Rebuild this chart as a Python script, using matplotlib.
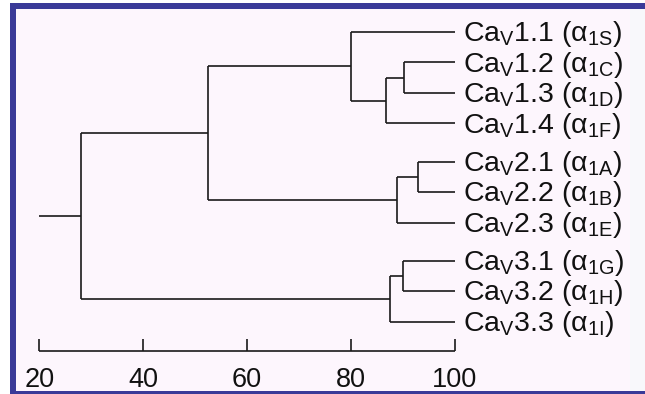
import matplotlib
matplotlib.use("Agg")
import matplotlib.pyplot as plt
from matplotlib.patches import Rectangle

plt.rcParams['font.family'] = ['Liberation Sans', 'DejaVu Sans']
plt.rcParams['mathtext.fontset'] = 'custom'
plt.rcParams['mathtext.rm'] = 'Liberation Sans'
plt.rcParams['mathtext.it'] = 'Liberation Sans:italic'

# leaves, top to bottom
channel = ['1.1', '1.2', '1.3', '1.4', '2.1', '2.2', '2.3', '3.1', '3.2', '3.3']
alpha_sub = ['1S', '1C', '1D', '1F', '1A', '1B', '1E', '1G', '1H', '1I']
leaf_y = [0, 1, 2, 3, 4.25, 5.25, 6.25, 7.5, 8.5, 9.5]

# merges: (left node, right node, % identity); new nodes numbered from 10
merges = [
    (1, 2, 90.1),
    (10, 3, 86.7),
    (0, 11, 80.0),
    (4, 5, 92.8),
    (13, 6, 88.9),
    (12, 14, 52.4),
    (7, 8, 90.0),
    (16, 9, 87.4),
    (15, 17, 28.0),
]
root_start = 20
scale_ticks = [20, 40, 60, 80, 100]

fig = plt.figure(figsize=(6.45, 3.94), dpi=100)
fig.patch.set_facecolor('white')
W, H = 645, 394

def px_rect(x0, y0, x1, y1, color, z):
    fig.patches.append(Rectangle((x0 / W, 1 - y1 / H), (x1 - x0) / W, (y1 - y0) / H,
                                 transform=fig.transFigure, facecolor=color,
                                 edgecolor='none', zorder=z))

# blue frame with pale interior
px_rect(9.7, 3, W + 5, H + 5, '#3a3a98', -3)
px_rect(15.7, 9, 630, 391, '#fdf6fd', -2)
px_rect(630, 9, W + 5, 391, '#f8f8fb', -2)

ax = fig.add_axes([0, 0, 1, 1])
ax.set_facecolor('none')
sx = (455 - 39.3) / 80
ax.set_xlim(20 - 39.3 / sx, 20 + (W - 39.3) / sx)
sy = 30.5
ax.set_ylim((H - 32) / sy, -32 / sy)
ax.axis('off')

lc = '#1a1a1a'
lw = 1.2
xs = [100] * len(channel)
ys = list(leaf_y)
for a, b, h in merges:
    ax.plot([h, h], [ys[a], ys[b]], color=lc, lw=lw, solid_capstyle='butt')
    ax.plot([h, xs[a]], [ys[a], ys[a]], color=lc, lw=lw, solid_capstyle='butt')
    ax.plot([h, xs[b]], [ys[b], ys[b]], color=lc, lw=lw, solid_capstyle='butt')
    xs.append(h)
    ys.append((ys[a] + ys[b]) / 2)
ax.plot([root_start, xs[-1]], [ys[-1], ys[-1]], color=lc, lw=lw, solid_capstyle='butt')

for c, s, y in zip(channel, alpha_sub, leaf_y):
    ax.text(101.6, y + 0.3, 'Ca$_\\mathrm{V}$' + c + ' (α$_\\mathrm{' + s + '}$)',
            fontsize=20.5, color='#111111', ha='left', va='baseline')

# scale bar
bar_y = (350.7 - 32) / sy
tick_top = (339.3 - 32) / sy
ax.plot([scale_ticks[0], scale_ticks[-1]], [bar_y, bar_y], color=lc, lw=lw, solid_capstyle='butt')
for t in scale_ticks:
    ax.plot([t, t], [bar_y, tick_top], color=lc, lw=lw, solid_capstyle='butt')
    ax.text(t, (386.7 - 32) / sy, str(t), fontsize=19.5, color='#111111',
            ha='center', va='baseline')

fig.savefig('out.png', dpi=100, facecolor=fig.get_facecolor())
